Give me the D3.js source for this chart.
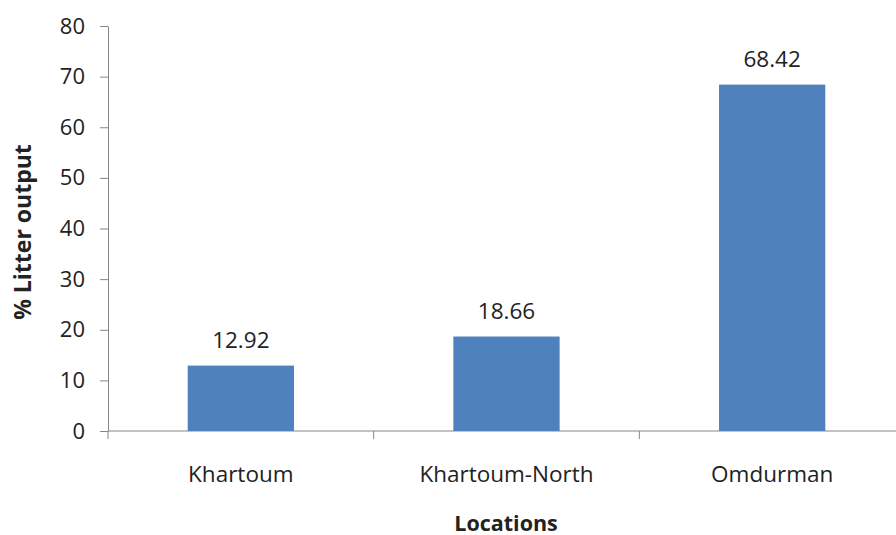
<!DOCTYPE html>
<html>
<head>
<meta charset="utf-8">
<script src="https://cdn.jsdelivr.net/npm/d3@7"></script>
<style>
  body { margin: 0; background: #fff; }
  text { font-family: "Open Sans", "Noto Sans", sans-serif; fill: #222; }
</style>
</head>
<body>
<div id="chart"></div>
<script>
const locations = ['Khartoum', 'Khartoum-North', 'Omdurman'];
const litterOutput = [12.92, 18.66, 68.42];
const yTicks = [0, 10, 20, 30, 40, 50, 60, 70, 80];

const width = 896;
const height = 535;
const margins = { top: 26, right: -9, bottom: 104, left: 108 };
const innerWidth = width - margins.left - margins.right;
const innerHeight = height - margins.top - margins.bottom;

const data = locations.map((d, i) => ({ name: d, value: litterOutput[i] }));

const svg = d3.select('#chart')
    .append('svg')
    .attr('width', width)
    .attr('height', height);

const g = svg.append('g')
    .attr('transform', `translate(${margins.left},${margins.top})`);

const x = d3.scaleBand()
    .domain(locations)
    .range([0, innerWidth])
    .paddingInner(0.6)
    .paddingOuter(0.3);

const y = d3.scaleLinear()
    .domain([0, 80])
    .range([innerHeight, 0]);

// y axis
const yAxis = g.append('g')
    .call(d3.axisLeft(y).tickValues(yTicks).tickSize(8).tickPadding(15).tickSizeOuter(0));
yAxis.select('.domain').attr('stroke', '#868686');
yAxis.selectAll('.tick line').attr('stroke', '#868686');
yAxis.selectAll('.tick text')
    .attr('font-size', 22)
    .attr('font-family', '"Open Sans", sans-serif')
    .attr('fill', '#222');

// x axis: ticks at category boundaries
const step = x.step();
const bounds = d3.range(locations.length + 1).map(i => x(locations[0]) - step * x.paddingOuter() + i * step);
const xAxis = g.append('g')
    .attr('transform', `translate(0,${innerHeight})`);
xAxis.append('line')
    .attr('x1', 0)
    .attr('x2', innerWidth)
    .attr('stroke', '#868686');
xAxis.selectAll('line.tick')
    .data(bounds)
    .join('line')
    .attr('class', 'tick')
    .attr('x1', d => d)
    .attr('x2', d => d)
    .attr('y1', 0)
    .attr('y2', 8)
    .attr('stroke', '#868686');
xAxis.selectAll('text')
    .data(locations)
    .join('text')
    .attr('x', d => x(d) + x.bandwidth() / 2)
    .attr('y', 51)
    .attr('text-anchor', 'middle')
    .attr('font-size', 22.5)
    .text(d => d);

// bars
g.selectAll('rect.bar')
    .data(data)
    .join('rect')
    .attr('class', 'bar')
    .attr('x', d => x(d.name))
    .attr('y', d => y(d.value))
    .attr('width', x.bandwidth())
    .attr('height', d => innerHeight - y(d.value))
    .attr('fill', '#4F81BD');

// value labels
g.selectAll('text.value')
    .data(data)
    .join('text')
    .attr('class', 'value')
    .attr('x', d => x(d.name) + x.bandwidth() / 2)
    .attr('y', d => y(d.value) - 18)
    .attr('text-anchor', 'middle')
    .attr('font-size', 22.5)
    .text(d => d.value.toFixed(2));

// axis titles
svg.append('text')
    .attr('transform', `translate(31, 232) rotate(-90)`)
    .attr('text-anchor', 'middle')
    .attr('font-size', 23)
    .attr('font-weight', 'bold')
    .text('% Litter output');

svg.append('text')
    .attr('x', 506)
    .attr('y', 531)
    .attr('text-anchor', 'middle')
    .attr('font-size', 21.5)
    .attr('font-weight', 'bold')
    .text('Locations');
</script>
</body>
</html>
